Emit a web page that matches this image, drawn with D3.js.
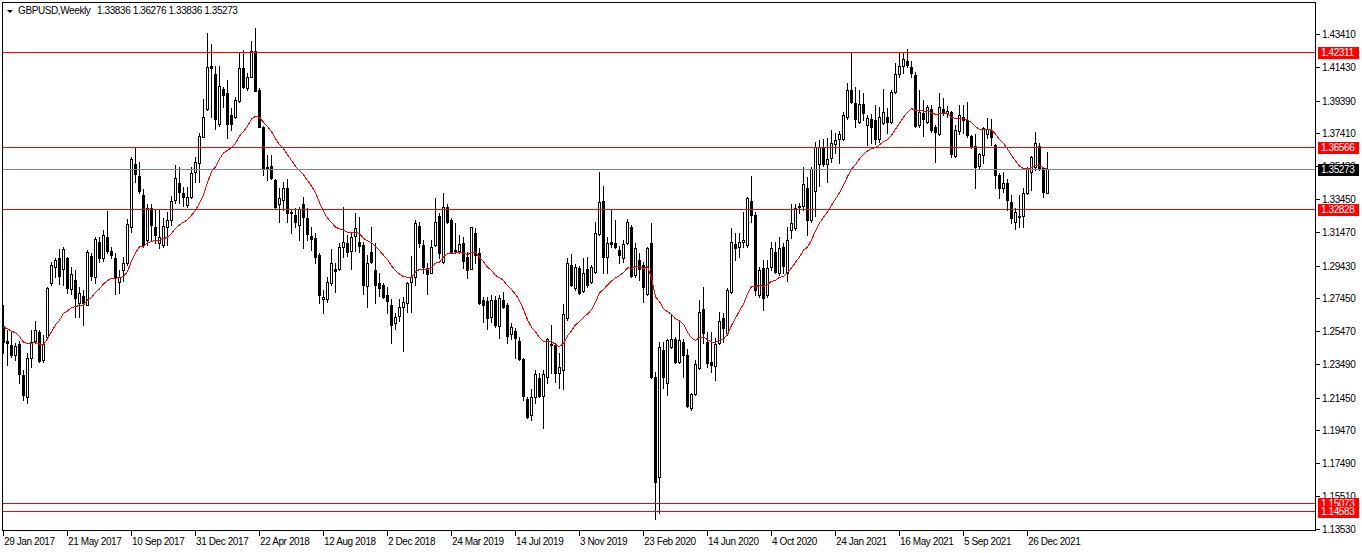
<!DOCTYPE html>
<html><head><meta charset="utf-8">
<script src="https://cdn.jsdelivr.net/npm/d3@7"></script>
<style>
html,body{margin:0;padding:0;background:#fff;}
svg{display:block;}
text{font-family:"Liberation Sans",Arial,sans-serif;font-size:10px;letter-spacing:-0.4px;}
</style>
</head><body>
<svg id="c" width="1362" height="553"></svg>
<script>
// ---------- data ----------
const symbolTitle = "GBPUSD,Weekly";
const lastBar = [1.33836, 1.36276, 1.33836, 1.35273];

const opens = [
1.2575,1.2487,1.2463,1.2400,1.2469,1.2282,1.2151,1.2387,1.2489,1.2544,
1.2372,1.2513,1.2836,1.2932,1.2987,1.2920,1.2987,1.2801,1.2856,1.2719,
1.2759,1.2705,1.3001,1.2876,1.3088,1.2987,1.3118,1.3031,1.2987,1.2846,
1.2916,1.2956,1.3178,1.3557,1.3484,1.3369,1.3097,1.3289,1.3178,1.3077,
1.3067,1.3178,1.3218,1.3339,1.3440,1.3380,1.3309,1.3359,1.3511,1.3565,
1.3722,1.3887,1.4149,1.4100,1.3798,1.4008,1.3988,1.3853,1.3839,1.3939,
1.4135,1.4014,1.4084,1.4240,1.4004,1.3778,1.3541,1.3545,1.3460,1.3315,
1.3339,1.3410,1.3269,1.3249,1.3188,1.3315,1.3229,1.3122,1.3108,1.3007,
1.2739,1.2739,1.2836,1.2920,1.2920,1.3057,1.3077,1.3033,1.3122,1.3087,
1.3067,1.2820,1.3027,1.2916,1.2840,1.2826,1.2765,1.2705,1.2598,1.2638,
1.2691,1.2719,1.2846,1.2876,1.3182,1.3067,1.2926,1.2896,1.3067,1.3242,
1.2967,1.3295,1.3218,1.3037,1.3033,1.3077,1.2997,1.2920,1.3142,1.3017,
1.2735,1.2731,1.2634,1.2735,1.2578,1.2735,1.2705,1.2530,1.2550,1.2489,
1.2378,1.2135,1.2040,1.2151,1.2262,1.2155,1.2268,1.2469,1.2463,1.2292,
1.2312,1.2624,1.2946,1.2806,1.2926,1.2791,1.2920,1.2846,1.2906,1.3132,
1.3335,1.2997,1.3087,1.3081,1.3037,1.2987,1.3077,1.3178,1.2886,1.2977,
1.2946,1.2771,1.3077,1.2268,1.1663,1.2433,1.2232,1.2449,1.2497,1.2362,
1.2483,1.2403,1.2080,1.2167,1.2322,1.2678,1.2482,1.2360,1.2335,1.2475,
1.2624,1.2534,1.2786,1.3074,1.3053,1.3088,1.3067,1.3335,1.3249,1.2765,
1.2927,1.2765,1.2933,1.3027,1.2896,1.3053,1.2896,1.3158,1.3168,1.3305,
1.3303,1.3410,1.3219,1.3396,1.3557,1.3651,1.3557,1.3591,1.3676,1.3706,
1.3706,1.3839,1.4004,1.3923,1.3813,1.3919,1.3792,1.3827,1.3823,1.3706,
1.3807,1.3839,1.3813,1.3994,1.4101,1.4149,1.4181,1.4145,1.4095,1.3792,
1.3863,1.3813,1.3887,1.3778,1.3738,1.3887,1.3867,1.3873,1.3605,1.3758,
1.3839,1.3823,1.3726,1.3666,1.3545,1.3611,1.3738,1.3762,1.3672,1.3490,
1.3410,1.3444,1.3329,1.3208,1.3235,1.3243,1.3380,1.3510,1.3541,1.3666,
1.3531,1.33836];

const highs = [
1.2706,1.2554,1.2544,1.2473,1.2489,1.2312,1.2413,1.2554,1.2610,1.2554,
1.2523,1.2815,1.2967,1.2987,1.3043,1.3053,1.2997,1.2936,1.2916,1.2816,
1.2795,1.3037,1.3021,1.3118,1.3118,1.3158,1.3275,1.3057,1.3021,1.2916,
1.2993,1.3222,1.3597,1.3651,1.3571,1.3404,1.3315,1.3315,1.3279,1.3279,
1.3228,1.3269,1.3363,1.3551,1.3540,1.3420,1.3420,1.3541,1.3601,1.3742,
1.3947,1.4346,1.4282,1.4149,1.4149,1.4024,1.4064,1.3893,1.3960,1.4225,
1.4246,1.4105,1.4302,1.4376,1.4014,1.3786,1.3611,1.3611,1.3464,1.3410,
1.3450,1.3464,1.3283,1.3289,1.3299,1.3359,1.3289,1.3178,1.3138,1.3017,
1.2795,1.2876,1.3041,1.2957,1.3081,1.3295,1.3128,1.3138,1.3259,1.3234,
1.3087,1.3007,1.3174,1.3077,1.2896,1.2840,1.2816,1.2739,1.2654,1.2739,
1.2755,1.2846,1.3001,1.3218,1.3208,1.3097,1.2957,1.3097,1.3349,1.3259,
1.3380,1.3315,1.3228,1.3198,1.3128,1.3118,1.3027,1.3178,1.3168,1.3047,
1.2755,1.2755,1.2765,1.2759,1.2765,1.2785,1.2715,1.2598,1.2564,1.2513,
1.2382,1.2151,1.2197,1.2312,1.2296,1.2312,1.2503,1.2584,1.2477,1.2413,
1.2711,1.2987,1.3013,1.2953,1.2940,1.2987,1.2993,1.2946,1.3208,1.3510,
1.3424,1.3118,1.3279,1.3218,1.3061,1.3097,1.3222,1.3188,1.3077,1.3017,
1.2967,1.3053,1.3202,1.2300,1.2483,1.2483,1.2497,1.2644,1.2510,1.2604,
1.2497,1.2437,1.2171,1.2372,1.2735,1.2816,1.2540,1.2540,1.2505,1.2665,
1.2655,1.2806,1.3168,1.3142,1.3142,1.3269,1.3359,1.3484,1.3269,1.2937,
1.2977,1.2977,1.3088,1.3088,1.3118,1.3081,1.3178,1.3315,1.3315,1.3323,
1.3541,1.3480,1.3541,1.3692,1.3702,1.3706,1.3712,1.3762,1.3742,1.3758,
1.3873,1.4048,1.4236,1.4024,1.4004,1.3984,1.3853,1.3859,1.3913,1.3899,
1.4008,1.3893,1.4004,1.4165,1.4229,1.4229,1.4250,1.4181,1.4115,1.4004,
1.3943,1.3913,1.3913,1.3792,1.3984,1.3953,1.3907,1.3879,1.3792,1.3913,
1.3913,1.3933,1.3732,1.3738,1.3621,1.3778,1.3833,1.3827,1.3678,1.3500,
1.3510,1.3464,1.3369,1.3289,1.3369,1.3410,1.3541,1.3605,1.3752,1.3686,
1.3537,1.36276];

const lows = [
1.2413,1.2342,1.2392,1.2372,1.2232,1.2131,1.2110,1.2332,1.2473,1.2358,
1.2362,1.2503,1.2826,1.2876,1.2832,1.2826,1.2775,1.2771,1.2634,1.2634,
1.2584,1.2705,1.2856,1.2836,1.2967,1.2973,1.3021,1.2987,1.2771,1.2775,
1.2852,1.2946,1.3148,1.3450,1.3380,1.3057,1.3067,1.3097,1.3081,1.3047,
1.3057,1.3067,1.3188,1.3319,1.3319,1.3300,1.3299,1.3349,1.3450,1.3450,
1.3722,1.3883,1.3843,1.3766,1.3786,1.3903,1.3712,1.3762,1.3833,1.3933,
1.4014,1.4004,1.4080,1.4000,1.3778,1.3490,1.3460,1.3464,1.3289,1.3208,
1.3279,1.3208,1.3138,1.3178,1.3098,1.3047,1.3098,1.3037,1.2961,1.2715,
1.2659,1.2725,1.2826,1.2785,1.2916,1.2997,1.3001,1.2920,1.3030,1.3027,
1.2771,1.2691,1.2957,1.2719,1.2759,1.2745,1.2659,1.2477,1.2558,1.2610,
1.2429,1.2664,1.2664,1.2826,1.3057,1.2900,1.2771,1.2896,1.3061,1.2987,
1.2961,1.3198,1.3017,1.3017,1.3017,1.2926,1.2866,1.2920,1.2957,1.2711,
1.2604,1.2558,1.2604,1.2574,1.2503,1.2685,1.2477,1.2497,1.2382,1.2372,
1.2131,1.2020,1.2010,1.2111,1.2147,1.1960,1.2232,1.2292,1.2242,1.2201,
1.2195,1.2614,1.2820,1.2796,1.2771,1.2785,1.2816,1.2836,1.2896,1.3128,
1.2900,1.2900,1.3057,1.3047,1.2957,1.2967,1.3073,1.2876,1.2876,1.2856,
1.2725,1.2765,1.2262,1.1410,1.1446,1.2201,1.2161,1.2443,1.2356,1.2356,
1.2268,1.2090,1.2070,1.2161,1.2316,1.2477,1.2330,1.2300,1.2250,1.2470,
1.2483,1.2524,1.2776,1.2977,1.2997,1.3057,1.3057,1.3208,1.2765,1.2755,
1.2675,1.2755,1.2917,1.2896,1.2886,1.2896,1.2852,1.3108,1.3158,1.3259,
1.3279,1.3128,1.3208,1.3243,1.3424,1.3545,1.3450,1.3571,1.3621,1.3565,
1.3702,1.3827,1.3923,1.3778,1.3803,1.3823,1.3672,1.3682,1.3678,1.3692,
1.3799,1.3742,1.3807,1.3988,1.4081,1.4105,1.4145,1.4085,1.3778,1.3782,
1.3726,1.3803,1.3752,1.3571,1.3732,1.3853,1.3843,1.3601,1.3601,1.3738,
1.3746,1.3722,1.3651,1.3410,1.3531,1.3565,1.3712,1.3672,1.3410,1.3349,
1.3390,1.3279,1.3198,1.3162,1.3178,1.3178,1.3376,1.3400,1.3521,1.3521,
1.3356,1.33836];

const closes = [
1.2480,1.2475,1.2402,1.2457,1.2288,1.2161,1.2387,1.2479,1.2554,1.2366,
1.2467,1.2805,1.2946,1.2977,1.2882,1.3041,1.2806,1.2892,1.2745,1.2776,
1.2715,1.3027,1.2882,1.3102,1.2987,1.3128,1.3033,1.3007,1.2876,1.2876,
1.2956,1.3192,1.3585,1.3494,1.3396,1.3067,1.3289,1.3188,1.3128,1.3118,
1.3182,1.3218,1.3335,1.3470,1.3390,1.3360,1.3359,1.3500,1.3571,1.3726,
1.3843,1.4145,1.4135,1.3827,1.4028,1.3974,1.3798,1.3798,1.3943,1.4135,
1.4024,1.4084,1.4240,1.4000,1.3778,1.3531,1.3525,1.3470,1.3295,1.3349,
1.3410,1.3259,1.3259,1.3204,1.3285,1.3235,1.3134,1.3102,1.2997,1.2765,
1.2755,1.2846,1.2957,1.2912,1.3053,1.3083,1.3027,1.3118,1.3168,1.3061,
1.2826,1.2961,1.2967,1.2826,1.2806,1.2751,1.2731,1.2584,1.2634,1.2695,
1.2725,1.2836,1.2876,1.3198,1.3081,1.2936,1.2890,1.3053,1.3208,1.3017,
1.3295,1.3208,1.3027,1.3031,1.3073,1.2973,1.2916,1.3174,1.3007,1.2715,
1.2705,1.2624,1.2735,1.2584,1.2745,1.2695,1.2517,1.2574,1.2503,1.2376,
1.2155,1.2026,1.2147,1.2288,1.2155,1.2286,1.2497,1.2463,1.2292,1.2332,
1.2651,1.2961,1.2826,1.2936,1.2779,1.2896,1.2826,1.2932,1.3138,1.3329,
1.2993,1.3081,1.3073,1.3057,1.3007,1.3073,1.3208,1.2880,1.3047,1.2920,
1.2812,1.3047,1.2268,1.1637,1.2453,1.2268,1.2493,1.2497,1.2362,1.2493,
1.2403,1.2094,1.2167,1.2348,1.2664,1.2537,1.2355,1.2340,1.2470,1.2610,
1.2564,1.2796,1.3088,1.3047,1.3088,1.3098,1.3349,1.3249,1.2796,1.2917,
1.2745,1.2927,1.3047,1.2906,1.3047,1.2940,1.3098,1.3202,1.3289,1.3295,
1.3436,1.3219,1.3525,1.3661,1.3661,1.3557,1.3585,1.3682,1.3702,1.3738,
1.3853,1.4004,1.3933,1.3827,1.3919,1.3867,1.3833,1.3778,1.3706,1.3839,
1.3873,1.3813,1.3994,1.4101,1.4149,1.4189,1.4155,1.4105,1.3786,1.3873,
1.3827,1.3899,1.3762,1.3752,1.3903,1.3863,1.3879,1.3617,1.3762,1.3853,
1.3823,1.3732,1.3666,1.3541,1.3617,1.3772,1.3766,1.3722,1.3490,1.3410,
1.3444,1.3339,1.3229,1.3269,1.3243,1.3380,1.3531,1.3597,1.3682,1.3531,
1.3390,1.35273];

// moving average (exponential, period 20) and its value at the first visible bar
const emaPeriod = 20;
const emaStart = 1.2570;

const priceTicks = [1.43410,1.41430,1.39390,1.37410,1.35430,1.33450,1.31470,1.29430,
                    1.27450,1.25470,1.23490,1.21450,1.19470,1.17490,1.15510,1.13530];
const dateLabels = ["29 Jan 2017","21 May 2017","10 Sep 2017","31 Dec 2017","22 Apr 2018",
  "12 Aug 2018","2 Dec 2018","24 Mar 2019","14 Jul 2019","3 Nov 2019","23 Feb 2020",
  "14 Jun 2020","4 Oct 2020","24 Jan 2021","16 May 2021","5 Sep 2021","26 Dec 2021"];
const dateLabelEvery = 16;   // bars between date labels
const redLevels = [1.42311, 1.36566, 1.32828, 1.15073, 1.14583];
const bidLevel = 1.35273;

// ---------- layout ----------
const svg = d3.select("#c");
const F = {left:2, top:2, right:1316, bottom:531};
const barStep = 4;
const n = closes.length;
const x = d3.scaleLinear().domain([0, n-1]).range([3.5, 3.5 + barStep*(n-1)]);
const y = d3.scaleLinear().domain([1.13530, 1.43410]).range([528.7, 34.2]);
const py = v => Math.round(y(v));

svg.append("rect").attr("width",1362).attr("height",553).attr("fill","#fff");

svg.append("clipPath").attr("id","clip").append("rect")
  .attr("x",F.left).attr("y",F.top).attr("width",F.right-F.left).attr("height",F.bottom-F.top);

const plot = svg.append("g").attr("clip-path","url(#clip)").attr("shape-rendering","crispEdges");

const data = closes.map((c,i)=>({i, o:opens[i], h:highs[i], l:lows[i], c}));

// wicks
plot.append("g").selectAll("rect").data(data).join("rect")
  .attr("x", d=>Math.floor(x(d.i)))
  .attr("y", d=>py(d.h))
  .attr("width",1)
  .attr("height", d=>py(d.l)-py(d.h)+1)
  .attr("fill","#000");

// bodies
const bodies = plot.append("g");
data.forEach(d=>{
  const top = py(Math.max(d.o,d.c)), bot = py(Math.min(d.o,d.c));
  const cx = Math.floor(x(d.i));
  if (d.c >= d.o && bot - top >= 2) {
    bodies.append("rect").attr("x",cx-0.5).attr("y",top+0.5)
      .attr("width",2).attr("height",bot-top)
      .attr("fill","#fff").attr("stroke","#000").attr("stroke-width",1);
  } else {
    bodies.append("rect").attr("x",cx-1).attr("y",top)
      .attr("width",3).attr("height",Math.max(1,bot-top+1)).attr("fill","#000");
  }
});

// EMA
const alpha = 2/(emaPeriod+1);
const ema = [];
closes.forEach((c,i)=>{ ema.push(i===0 ? emaStart : ema[i-1] + alpha*(c-ema[i-1])); });
plot.append("path").datum(ema)
  .attr("d", d3.line().x((d,i)=>x(i)).y(d=>y(d)))
  .attr("fill","none").attr("stroke","#ff0000").attr("stroke-width",1);

// horizontal levels
plot.append("g").selectAll("line").data(redLevels).join("line")
  .attr("x1",F.left).attr("x2",F.right)
  .attr("y1",d=>py(d)+0.5).attr("y2",d=>py(d)+0.5)
  .attr("stroke","#ff0000").attr("stroke-width",1);
plot.append("line").attr("x1",F.left).attr("x2",F.right)
  .attr("y1",py(bidLevel)+0.5).attr("y2",py(bidLevel)+0.5)
  .attr("stroke","#778899").attr("stroke-width",1);

// frame
svg.append("rect").attr("x",F.left+0.5).attr("y",F.top+0.5)
  .attr("width",F.right-F.left-1).attr("height",F.bottom-F.top-1)
  .attr("fill","none").attr("stroke","#000").attr("shape-rendering","crispEdges");

// right price axis
const ax = svg.append("g").attr("shape-rendering","crispEdges");
priceTicks.forEach(v=>{
  const yy = py(v);
  ax.append("line").attr("x1",F.right).attr("x2",F.right+4)
    .attr("y1",yy+0.5).attr("y2",yy+0.5).attr("stroke","#000");
  ax.append("text").attr("x",F.right+6).attr("y",yy+4).attr("fill","#000").text(v.toFixed(5));
});

// level boxes
function levelBox(v, fill){
  const yy = py(v);
  ax.append("rect").attr("x",F.right+2).attr("y",yy-5).attr("width",41).attr("height",12).attr("fill",fill);
  ax.append("text").attr("x",F.right+5).attr("y",yy+4).attr("fill","#fff").text(v.toFixed(5));
}
redLevels.forEach(v=>levelBox(v,"#ff0000"));
levelBox(bidLevel,"#000");

// bottom date axis
dateLabels.forEach((t,k)=>{
  const xx = Math.floor(x(k*dateLabelEvery));
  ax.append("line").attr("x1",xx+0.5).attr("x2",xx+0.5)
    .attr("y1",F.bottom).attr("y2",F.bottom+5).attr("stroke","#000");
  ax.append("text").attr("x",xx+1).attr("y",545).attr("fill","#000").text(t);
});

// title
svg.append("path").attr("d","M7,10 L13,10 L10,13 Z").attr("fill","#000");
svg.append("text").attr("x",18).attr("y",14).attr("fill","#000").text(symbolTitle);
svg.append("text").attr("x",97).attr("y",14).attr("fill","#000")
  .text(lastBar.map(v=>v.toFixed(5)).join(" "));
</script>
</body></html>
